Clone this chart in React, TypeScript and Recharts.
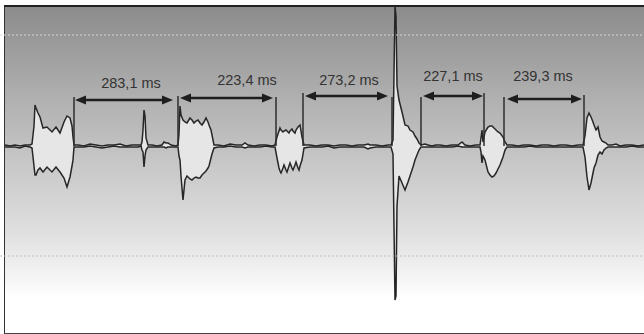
import {
  ComposedChart,
  Area,
  XAxis,
  YAxis,
  ReferenceLine,
  ReferenceDot,
} from 'recharts';

// waveform envelope: [time, upper, lower] (time in screen units, amplitude relative to baseline)
const noiseA: [number, number, number][] = [
  [5, 1, -1], [10, 0, -1], [15, 1, -1], [20, 0, -2], [25, 1, 0], [30, 1, -1],
];
const burst1: [number, number, number][] = [
  [32, 2, -2], [34, 20, -20], [35, 41, -29], [36, 38, -29], [38, 33, -24], [40, 29, -22],
  [43, 18, -26], [47, 19, -21], [52, 14, -26], [56, 19, -21], [60, 13, -26], [64, 24, -32],
  [67, 30, -41], [70, 28, -31], [72, 20, -20], [73, 9, -14], [74, 1, -1],
];
const noiseB: [number, number, number][] = [
  [78, 1, -1], [84, 0, -1], [90, 2, 0], [96, 1, -1], [102, 0, -2], [108, 1, -1], [114, 1, 0],
  [120, 2, -1], [126, 0, -1], [132, 1, -1], [138, 1, -1], [141, 1, 0],
];
const click1: [number, number, number][] = [
  [142, 4, -4], [143, 16, -6], [144, 36, -21], [145, 30, -10], [146, 8, -4], [148, 1, -1],
];
const noiseC: [number, number, number][] = [
  [152, 1, -1], [157, 0, -1], [162, 1, -1], [164, 4, -1], [166, 3, -2], [168, 3, -1],
  [171, 1, -1], [176, 0, -1], [178, 1, -1],
];
const burst2: [number, number, number][] = [
  [179, 12, -10], [180, 40, -14], [181, 31, -30], [183, 26, -54], [185, 24, -34], [187, 23, -30],
  [190, 28, -33], [192, 26, -34], [194, 23, -32], [196, 25, -31], [198, 26, -32], [200, 23, -32],
  [202, 21, -29], [204, 24, -27], [206, 28, -25], [208, 24, -22], [209, 21, -20], [211, 16, -12],
  [212, 11, -8], [214, 1, -2],
];
const noiseD: [number, number, number][] = [
  [218, 1, -1], [224, 0, -1], [230, 2, 0], [236, 1, -1], [242, 1, -1], [245, 3, -2],
  [248, 1, -1], [254, 0, -1], [260, 1, -1], [266, 1, 0], [272, 0, -1], [275, 1, -1],
];
const burst3: [number, number, number][] = [
  [277, 9, -12], [279, 15, -22], [280, 18, -25], [281, 16, -27], [283, 14, -22], [284, 15, -19],
  [286, 16, -24], [287, 15, -26], [289, 13, -20], [290, 15, -17], [292, 17, -22], [293, 15, -24],
  [295, 13, -19], [296, 16, -16], [298, 19, -22], [299, 20, -24], [300, 21, -20], [302, 9, -14],
  [304, 1, -2],
];
const noiseE: [number, number, number][] = [
  [310, 1, -1], [316, 0, -1], [322, 1, -1], [328, 1, 0], [334, 0, -2], [340, 1, -1],
  [346, 1, -1], [352, 0, -1], [358, 1, -1], [364, 1, -1], [368, 2, -3], [370, 1, -2],
  [376, 1, -1], [382, 0, -1], [388, 1, -1], [391, 1, -1],
];
const burst4: [number, number, number][] = [
  [393, 6, -8], [395, 140, -154], [396, 130, -150], [397, 60, -60], [399, 46, -30],
  [402, 34, -37], [405, 21, -44], [408, 20, -36], [410, 16, -30], [413, 14, -21],
  [415, 10, -14], [417, 7, -9], [419, 3, -4], [421, 1, -1],
];
const noiseF: [number, number, number][] = [
  [425, 2, -1], [428, 1, -1], [432, 0, -1], [436, 1, -1], [440, 1, -1], [446, 0, -1],
  [452, 1, -1], [458, 1, 0], [462, 4, -1], [465, 1, -1], [470, 0, -1], [476, 1, -1], [480, 1, -1],
];
const burst5: [number, number, number][] = [
  [481, 8, -6], [482, 16, -17], [483, 4, -10], [485, 14, -14], [488, 19, -26], [490, 20, -29],
  [492, 20, -31], [494, 18, -30], [496, 16, -27], [498, 14, -23], [500, 13, -19], [503, 9, -11],
  [505, 4, -4], [507, 1, -1],
];
const noiseG: [number, number, number][] = [
  [512, 1, -1], [518, 0, -1], [524, 1, -1], [530, 1, 0], [536, 0, -1], [542, 1, -1],
  [548, 1, -1], [554, 0, -1], [560, 1, -1], [566, 1, -1], [572, 0, -1], [578, 1, -1], [583, 1, -1],
];
const burst6: [number, number, number][] = [
  [585, 10, -11], [587, 28, -31], [589, 33, -44], [591, 29, -37], [593, 24, -27], [594, 21, -22],
  [596, 16, -17], [598, 19, -9], [600, 9, -6], [602, 5, -8], [604, 4, -4], [606, 3, -2], [608, 1, -1],
];
const noiseH: [number, number, number][] = [
  [612, 1, -1], [616, 2, -1], [620, 0, -1], [626, 1, -1], [632, 1, 0], [638, 0, -1], [644, 1, -1],
];

// onset / offset markers: [time, top]
const markers: [number, number][] = [
  [74, 49], [178, 50], [276, 49], [303, 53], [392, 49], [421, 49], [484, 53], [504, 49], [584, 51],
];

// gap arrows: [start, end, level]
const arrows: [number, number, number][] = [
  [75, 173, 46], [180, 273, 48], [305, 388, 50], [423, 483, 50], [507, 582, 47],
];

const gapLabels = ['283,1 ms', '223,4 ms', '273,2 ms', '227,1 ms', '239,3 ms'];
const labelTimes = [131, 247, 349, 453, 543];
const labelLevels = [58, 61, 61, 65, 65];

const data = [
  ...noiseA, ...burst1, ...noiseB, ...click1, ...noiseC, ...burst2, ...noiseD, ...burst3,
  ...noiseE, ...burst4, ...noiseF, ...burst5, ...noiseG, ...burst6, ...noiseH,
].map(([t, hi, lo]) => ({ t, range: [lo, hi] }));

function ArrowShape(props: any) {
  const { x1, y1, x2 } = props;
  const y = y1;
  const head = 11;
  return (
    <g>
      <line x1={x1 + 6} y1={y} x2={x2 - 6} y2={y} stroke="#1e1e1e" strokeWidth={2.5} />
      <polygon points={`${x1},${y} ${x1 + head},${y - 4.5} ${x1 + head},${y + 4.5}`} fill="#1e1e1e" />
      <polygon points={`${x2},${y} ${x2 - head},${y - 4.5} ${x2 - head},${y + 4.5}`} fill="#1e1e1e" />
    </g>
  );
}

export default function App() {
  return (
    <div style={{ position: 'absolute', left: 0, top: 0, width: 644, height: 334, background: '#fff' }}>
      {/* framed gradient panel */}
      <div
        style={{
          position: 'absolute',
          left: 4,
          top: 5,
          width: 640,
          height: 326,
          borderLeft: '1.5px solid #333',
          borderTop: '2px solid #222',
          borderBottom: '1.5px solid #444',
          background:
            'linear-gradient(to bottom, #8c8c8c 0%, #b0b0b0 28%, #c4c4c4 45%, #dedede 68%, #f6f6f6 84%, #ffffff 89%, #ffffff 100%)',
        }}
      />
      <div style={{ position: 'absolute', left: 0, top: 0 }}>
        <ComposedChart width={644} height={334} data={data} margin={{ top: 0, right: 0, bottom: 0, left: 0 }}>
          <XAxis type="number" dataKey="t" domain={[0, 644]} hide allowDataOverflow />
          <YAxis type="number" domain={[-188, 146]} hide allowDataOverflow />
          <ReferenceLine y={111} stroke="#d4d4d4" strokeDasharray="2 2" strokeWidth={1} />
          <ReferenceLine y={-110} stroke="#c2c2c2" strokeDasharray="2 2" strokeWidth={1} />
          {markers.map(([t, top]) => (
            <ReferenceLine
              key={`m${t}`}
              segment={[{ x: t, y: 0 }, { x: t, y: top }]}
              stroke="#2e2e2e"
              strokeWidth={1.5}
            />
          ))}
          <Area
            type="linear"
            dataKey="range"
            stroke="#262626"
            strokeWidth={1.5}
            fill="#e6e6e6"
            fillOpacity={1}
            isAnimationActive={false}
            dot={false}
            activeDot={false}
          />
          {arrows.map(([a, b, lvl]) => (
            <ReferenceLine
              key={`a${a}`}
              segment={[{ x: a, y: lvl }, { x: b, y: lvl }]}
              shape={ArrowShape}
            />
          ))}
          {gapLabels.map((txt, i) => (
            <ReferenceDot
              key={txt}
              x={labelTimes[i]}
              y={labelLevels[i]}
              r={0}
              shape={(p: any) => (
                <text
                  x={p.cx}
                  y={p.cy}
                  textAnchor="middle"
                  fontFamily="'Liberation Sans', Arial, sans-serif"
                  fontSize={14.5}
                  fill="#333"
                >
                  {txt}
                </text>
              )}
            />
          ))}
        </ComposedChart>
      </div>
    </div>
  );
}
